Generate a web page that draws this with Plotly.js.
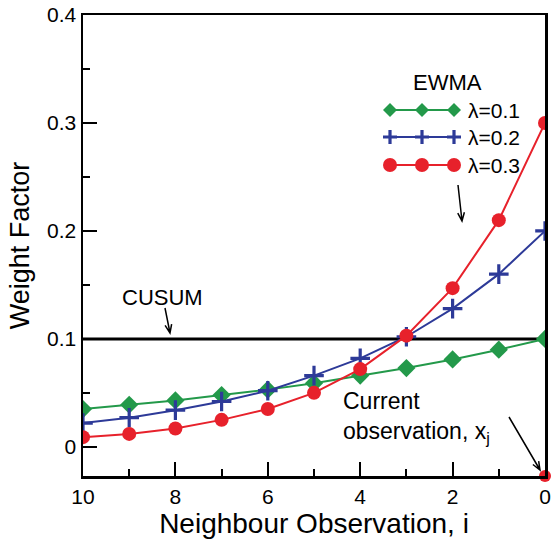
<!DOCTYPE html>
<html>
<head>
<meta charset="utf-8">
<script src="https://cdn.plot.ly/plotly-3.0.1.min.js"></script>
<style>html,body{margin:0;padding:0;background:#fff;}#chart{width:560px;height:544px;}</style>
</head>
<body>
<div id="chart"></div>
<script>
// Data
var obsIndex = [10, 9, 8, 7, 6, 5, 4, 3, 2, 1, 0];
var ewma01 = [0.035, 0.039, 0.043, 0.048, 0.053, 0.059, 0.066, 0.073, 0.081, 0.090, 0.100];
var ewma02 = [0.022, 0.027, 0.034, 0.042, 0.052, 0.066, 0.082, 0.102, 0.128, 0.160, 0.200];
var ewma03 = [0.009, 0.012, 0.017, 0.025, 0.035, 0.050, 0.072, 0.103, 0.147, 0.210, 0.300];
var cusum = [0.1, 0.1, 0.1, 0.1, 0.1, 0.1, 0.1, 0.1, 0.1, 0.1, 0.1];
var currentObsX = [0];
var currentObsY = [-0.027];
var seriesNames = ['\u03bb=0.1', '\u03bb=0.2', '\u03bb=0.3'];
var xTickVals = [10, 8, 6, 4, 2, 0];
var yTickVals = [0, 0.1, 0.2, 0.3, 0.4];

var GREEN = '#23994a', BLUE = '#2d3a98', RED = '#e7212b';
var FONT = 'Liberation Sans, Arial, sans-serif';

// plot-area geometry (pixels) for helper conversions
var L = 83, R = 545, T = 15, B = 476;
var xRange = [10, 0], yRange = [-0.027, 0.4];
function px2x(px) { return xRange[0] + (px - L) / (R - L) * (xRange[1] - xRange[0]); }
function py2y(py) { return yRange[1] - (py - T) / (B - T) * (yRange[1] - yRange[0]); }

var traces = [
  {x: obsIndex, y: cusum, mode: 'lines', line: {color: '#000', width: 3}, showlegend: false, hoverinfo: 'skip'},
  {x: obsIndex, y: ewma01, mode: 'lines+markers', name: seriesNames[0], line: {color: GREEN, width: 2},
   marker: {symbol: 'diamond', size: 14, color: GREEN, line: {width: 0}}, showlegend: false},
  {x: obsIndex, y: ewma02, mode: 'lines+markers', name: seriesNames[1], line: {color: BLUE, width: 2},
   marker: {symbol: 'cross-thin', size: 14, color: BLUE, line: {width: 3.2, color: BLUE}}, showlegend: false},
  {x: obsIndex, y: ewma03, mode: 'lines+markers', name: seriesNames[2], line: {color: RED, width: 2},
   marker: {symbol: 'circle', size: 14, color: RED, line: {width: 0}}, showlegend: false},
  {x: currentObsX, y: currentObsY, mode: 'markers', marker: {symbol: 'circle', size: 12, color: RED},
   cliponaxis: false, showlegend: false}
];

var shapes = [];
var annotations = [];

// manual legend (EWMA block)
var legY = [110, 137, 165];
var legColors = [GREEN, BLUE, RED];
var symX = [390, 422, 454];
for (var k = 0; k < 3; k++) {
  var yy = py2y(legY[k]);
  shapes.push({type: 'line', xref: 'x', yref: 'y', x0: px2x(385), x1: px2x(458), y0: yy, y1: yy,
    line: {color: legColors[k], width: 2}});
  for (var m = 0; m < 3; m++) {
    var xx = px2x(symX[m]);
    if (k === 0) {
      shapes.push({type: 'path', xref: 'x', yref: 'y', xsizemode: 'pixel', ysizemode: 'pixel',
        xanchor: xx, yanchor: yy, path: 'M0,7 L7,0 L0,-7 L-7,0 Z', fillcolor: GREEN, line: {width: 0}});
    } else if (k === 1) {
      shapes.push({type: 'path', xref: 'x', yref: 'y', xsizemode: 'pixel', ysizemode: 'pixel',
        xanchor: xx, yanchor: yy, path: 'M-7,0 L7,0 M0,-7 L0,7', line: {color: BLUE, width: 3.2}});
    } else {
      shapes.push({type: 'circle', xref: 'x', yref: 'y', xsizemode: 'pixel', ysizemode: 'pixel',
        xanchor: xx, yanchor: yy, x0: -7, x1: 7, y0: -7, y1: 7, fillcolor: RED, line: {width: 0}});
    }
  }
  annotations.push({x: px2x(466), y: yy, xref: 'x', yref: 'y', text: seriesNames[k], showarrow: false,
    xanchor: 'left', yanchor: 'middle', font: {family: FONT, size: 21, color: '#000'}});
}
annotations.push({x: px2x(447), y: py2y(82), xref: 'x', yref: 'y', text: 'EWMA', showarrow: false,
  xanchor: 'center', yanchor: 'middle', font: {family: FONT, size: 22, color: '#000'}});

// thin arrows with open V heads (tail/head in screen pixels)
function addArrow(tx, ty, hx, hy) {
  var dx = tx - hx, dy = ty - hy;               // screen offsets of tail from head
  var len = Math.sqrt(dx * dx + dy * dy);
  var ux = dx / len, uy = dy / len;
  var hl = 9, ang = 0.38;
  var c = Math.cos(ang), s = Math.sin(ang);
  var w1x = hl * (ux * c - uy * s), w1y = hl * (ux * s + uy * c);
  var w2x = hl * (ux * c + uy * s), w2y = hl * (-ux * s + uy * c);
  // pixel-mode path: y positive is upward, so negate screen dy
  var p = 'M' + dx + ',' + (-dy) + ' L0,0 ' +
          'M' + w1x.toFixed(2) + ',' + (-w1y).toFixed(2) + ' L0,0 L' + w2x.toFixed(2) + ',' + (-w2y).toFixed(2);
  shapes.push({type: 'path', xref: 'x', yref: 'y', xsizemode: 'pixel', ysizemode: 'pixel',
    xanchor: px2x(hx), yanchor: py2y(hy), path: p, line: {color: '#000', width: 1.5}});
}
addArrow(458, 185, 462, 221);   // EWMA arrow
addArrow(165, 308, 170, 333);   // CUSUM arrow
addArrow(509, 417, 540, 470);   // current observation arrow

// CUSUM label
annotations.push({x: px2x(162), y: py2y(297), xref: 'x', yref: 'y', text: 'CUSUM', showarrow: false,
  xanchor: 'center', yanchor: 'middle', font: {family: FONT, size: 22, color: '#000'}});
// Current observation label
annotations.push({x: px2x(341), y: py2y(417), xref: 'x', yref: 'y',
  text: 'Current<br>observation, x<sub>j</sub>', showarrow: false, align: 'left',
  xanchor: 'left', yanchor: 'middle', font: {family: FONT, size: 23, color: '#000'}});

var layout = {
  width: 560, height: 544,
  margin: {l: L, r: 560 - R, t: T, b: 544 - B},
  paper_bgcolor: '#fff', plot_bgcolor: '#fff',
  showlegend: false,
  font: {family: FONT, color: '#000'},
  xaxis: {
    range: xRange, tickvals: xTickVals, ticks: 'inside', ticklen: 14, tickwidth: 2, tickcolor: '#000',
    minor: {dtick: 1, tick0: 0, ticks: 'inside', ticklen: 7, tickwidth: 2, tickcolor: '#000'},
    showline: true, linecolor: '#000', linewidth: 2.5, mirror: true, showgrid: false, zeroline: false,
    tickfont: {family: FONT, size: 21, color: '#000'},
    title: {text: 'Neighbour Observation, i', font: {family: FONT, size: 28, color: '#000'}, standoff: 4}
  },
  yaxis: {
    range: yRange, tickvals: yTickVals, ticks: 'inside', ticklen: 14, tickwidth: 2, tickcolor: '#000',
    minor: {dtick: 0.05, tick0: 0, ticks: 'inside', ticklen: 7, tickwidth: 2, tickcolor: '#000'},
    showline: true, linecolor: '#000', linewidth: 2.5, mirror: true, showgrid: false, zeroline: false,
    tickfont: {family: FONT, size: 21, color: '#000'},
    title: {text: 'Weight Factor', font: {family: FONT, size: 27, color: '#000'}, standoff: 10}
  },
  shapes: shapes,
  annotations: annotations
};

Plotly.newPlot('chart', traces, layout, {displayModeBar: false, staticPlot: true});
</script>
</body>
</html>
